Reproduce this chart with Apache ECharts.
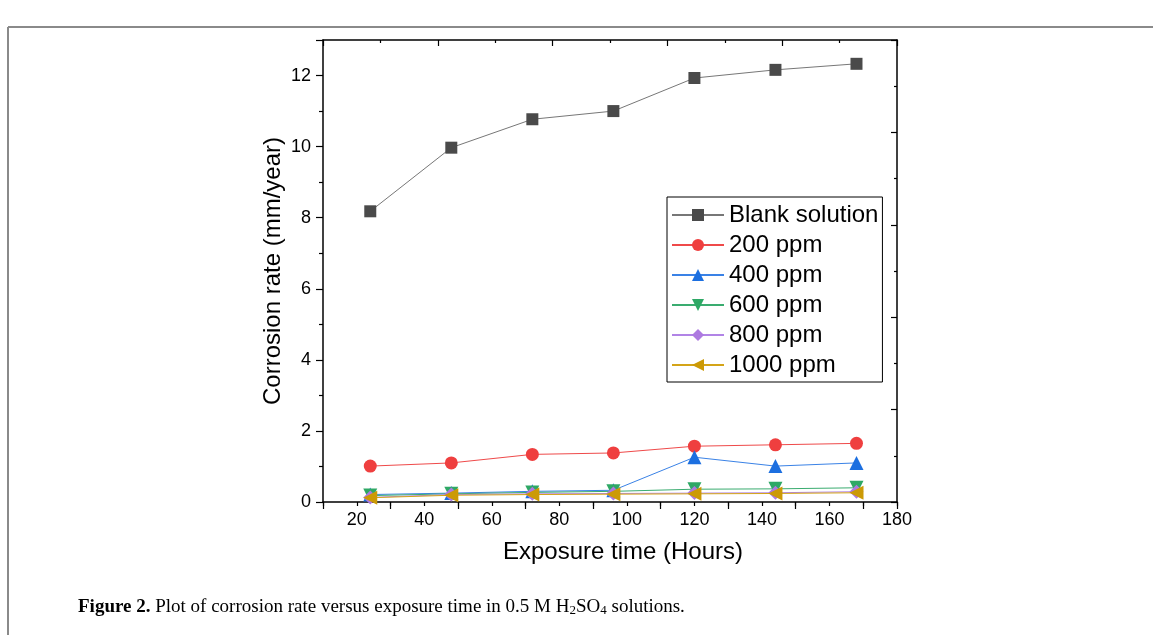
<!DOCTYPE html>
<html>
<head>
<meta charset="utf-8">
<script src="https://cdn.jsdelivr.net/npm/echarts@6/dist/echarts.min.js"></script>
<style>
html,body{margin:0;padding:0;background:#fff;}
#chart{width:1153px;height:635px;}
</style>
</head>
<body>
<div id="chart"></div>
<script>
const hours = [24, 48, 72, 96, 120, 144, 168];
const seriesNames = ['Blank solution', '200 ppm', '400 ppm', '600 ppm', '800 ppm', '1000 ppm'];
const blank = [8.18, 9.97, 10.77, 11.0, 11.93, 12.16, 12.33];
const ppm200 = [1.01, 1.10, 1.34, 1.38, 1.57, 1.61, 1.65];
const ppm400 = [0.21, 0.25, 0.30, 0.33, 1.26, 1.01, 1.10];
const ppm600 = [0.18, 0.23, 0.27, 0.30, 0.36, 0.37, 0.40];
const ppm800 = [0.13, 0.21, 0.23, 0.24, 0.25, 0.26, 0.29];
const ppm1000 = [0.12, 0.19, 0.21, 0.22, 0.23, 0.24, 0.26];
const xTicks = [20, 40, 60, 80, 100, 120, 140, 160, 180];
const yTicks = [0, 2, 4, 6, 8, 10, 12];

const values = [blank, ppm200, ppm400, ppm600, ppm800, ppm1000];
const colors = ['#4a4a4a', '#ef3f3f', '#1c6fe0', '#2ea865', '#ad7ae0', '#cc9a06'];
const lineColors = ['#777777', '#ef4a4a', '#3a82e6', '#3aac70', '#b184e6', '#d4a418'];
const symbols = ['rect', 'circle', 'triangle', 'triangle', 'diamond', 'triangle'];
const rotations = [0, 0, 0, 180, 0, 90];
const sizes = [12, 13, 14, 14, 14, 14];

const chart = echarts.init(document.getElementById('chart'), null, {renderer: 'canvas'});
const axisFont = {fontFamily: 'Liberation Sans, Arial, sans-serif', fontSize: 18, color: '#000'};
const hideAxis = {axisLabel: {show: false}, splitLine: {show: false}};

const option = {
  animation: false,
  backgroundColor: '#fff',
  grid: {left: 323, right: 256, top: 40, bottom: 133, containLabel: false},
  legend: {
    show: true,
    orient: 'vertical',
    left: 667, top: 197,
    data: seriesNames,
    itemWidth: 52, itemHeight: 15, itemGap: 6,
    padding: [6, 4, 5, 4],
    borderColor: '#000', borderWidth: 1,
    textStyle: {fontFamily: 'Liberation Sans, Arial, sans-serif', fontSize: 24, color: '#000', lineHeight: 24}
  },
  xAxis: [{
    type: 'value', position: 'bottom',
    min: 10, max: 180, interval: 10,
    name: 'Exposure time (Hours)', nameLocation: 'middle', nameGap: 38,
    nameTextStyle: {fontFamily: 'Liberation Sans, Arial, sans-serif', fontSize: 24, color: '#000', padding: [0, 0, 0, 26]},
    axisLine: {show: true, onZero: false, lineStyle: {color: '#000', width: 1.5}},
    axisTick: {show: true, inside: false, length: 4, lineStyle: {color: '#000', width: 1.2}},
    axisLabel: Object.assign({margin: 9, formatter: function (v) { return xTicks.indexOf(v) >= 0 ? String(v) : ''; }}, axisFont),
    splitLine: {show: false}
  }, Object.assign({
    type: 'value', position: 'top',
    min: 0, max: 5, interval: 1,
    axisLine: {show: true, onZero: false, lineStyle: {color: '#000', width: 1.5}},
    axisTick: {show: true, inside: true, length: 6, lineStyle: {color: '#000', width: 1.2}},
    minorTick: {show: true, splitNumber: 2, length: 3, lineStyle: {color: '#000', width: 1.2}}
  }, hideAxis), Object.assign({
    type: 'value', position: 'bottom',
    min: 10, max: 180, interval: 20,
    axisLine: {show: false, onZero: false},
    axisTick: {show: true, inside: false, length: 7, lineStyle: {color: '#000', width: 1.2}}
  }, hideAxis)],
  yAxis: [{
    type: 'value', position: 'left',
    min: 0, max: 13, interval: 2,
    name: 'Corrosion rate (mm/year)', nameLocation: 'middle', nameGap: 38, nameRotate: 90,
    nameTextStyle: {fontFamily: 'Liberation Sans, Arial, sans-serif', fontSize: 24, color: '#000'},
    axisLine: {show: true, onZero: false, lineStyle: {color: '#000', width: 1.5}},
    axisTick: {show: true, inside: false, length: 7, lineStyle: {color: '#000', width: 1.2}},
    minorTick: {show: true, splitNumber: 2, length: 4, lineStyle: {color: '#000', width: 1.2}},
    axisLabel: Object.assign({margin: 12, showMaxLabel: false, formatter: function (v) { return yTicks.indexOf(v) >= 0 ? String(v) : ''; }}, axisFont),
    splitLine: {show: false}
  }, Object.assign({
    type: 'value', position: 'right',
    min: 0, max: 5, interval: 1,
    axisLine: {show: true, onZero: false, lineStyle: {color: '#000', width: 1.5}},
    axisTick: {show: true, inside: true, length: 6, lineStyle: {color: '#000', width: 1.2}},
    minorTick: {show: true, splitNumber: 2, length: 3, lineStyle: {color: '#000', width: 1.2}}
  }, hideAxis)],
  series: seriesNames.map(function (name, i) {
    return {
      name: name, type: 'line',
      xAxisIndex: 0, yAxisIndex: 0,
      data: hours.map(function (h, j) { return [h, values[i][j]]; }),
      symbol: symbols[i], symbolRotate: rotations[i], symbolSize: sizes[i],
      showAllSymbol: true,
      itemStyle: {color: colors[i]},
      lineStyle: {color: lineColors[i], width: 1},
      z: 2 + i
    };
  }),
  graphic: [
    {type: 'line', shape: {x1: 8, y1: 27, x2: 1153, y2: 27}, style: {stroke: '#8a8a8a', lineWidth: 2}, silent: true},
    {type: 'line', shape: {x1: 8, y1: 27, x2: 8, y2: 635}, style: {stroke: '#8a8a8a', lineWidth: 2}, silent: true},
    {
      type: 'text', left: 78, top: 598, silent: true,
      style: {
        text: '{b|Figure 2.} Plot of corrosion rate versus exposure time in 0.5 M H{s|2}SO{s|4} solutions.',
        fontFamily: 'Liberation Serif, Times New Roman, serif', fontSize: 19, fill: '#000',
        rich: {
          b: {fontWeight: 'bold', fontFamily: 'Liberation Serif, Times New Roman, serif', fontSize: 19},
          s: {fontSize: 13, fontFamily: 'Liberation Serif, Times New Roman, serif', verticalAlign: 'bottom', padding: [7, 0, 0, 0]}
        }
      }
    }
  ]
};
chart.setOption(option);
</script>
</body>
</html>
